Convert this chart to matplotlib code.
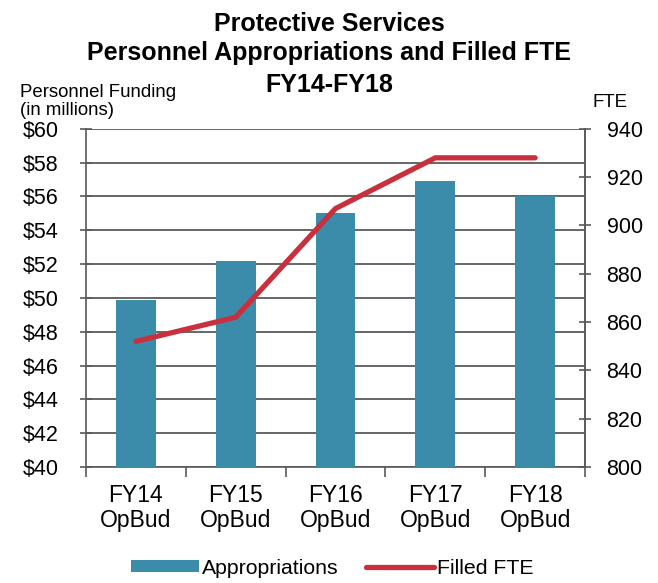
""" Protective Services personnel appropriations vs filled FTE """

import numpy as np
import matplotlib
matplotlib.use("Agg")
import matplotlib.pyplot as plt
from matplotlib.ticker import FuncFormatter, FixedLocator, NullFormatter

categories = ["FY14\nOpBud", "FY15\nOpBud", "FY16\nOpBud", "FY17\nOpBud", "FY18\nOpBud"]
appropriations = [49.9, 52.2, 55.0, 56.9, 56.0]   # $ millions
filled_fte = [852, 862, 907, 928, 928]

plt.rcParams['font.family'] = ['Liberation Sans', 'DejaVu Sans']

BAR_COLOR = "#3b8bab"
LINE_COLOR = "#c9303d"
GRID_COLOR = "#5a5a5a"

fig = plt.figure(figsize=(6.58, 5.83), dpi=100)
ax = fig.add_axes([0.1307, 0.199, 0.7584, 0.58])
x = np.arange(len(categories))

ax.bar(x, appropriations, width=0.4, color=BAR_COLOR, zorder=3, label="Appropriations")
ax.set_ylim(40, 60)
ax.set_xlim(-0.5, len(categories) - 0.5)
ax.set_yticks(np.arange(40, 61, 2))
ax.yaxis.set_major_formatter(FuncFormatter(lambda v, p: "$%d" % v))
ax.yaxis.grid(True, color=GRID_COLOR, linewidth=1.3, zorder=0)
ax.set_axisbelow(True)

# category labels centered, ticks on the boundaries
ax.set_xticks(x)
ax.set_xticklabels(categories, fontsize=16.5, linespacing=1.15)
ax.tick_params(axis="x", length=0, pad=12)
ax.xaxis.set_minor_locator(FixedLocator(np.arange(-0.5, len(categories), 1.0)))
ax.xaxis.set_minor_formatter(NullFormatter())
ax.tick_params(axis="x", which="minor", length=7, color=GRID_COLOR, width=1.2)
ax.tick_params(axis="y", labelsize=15.5, length=9, direction="inout",
               color=GRID_COLOR, width=1.2, pad=15)

for side in ["left", "right", "bottom"]:
    ax.spines[side].set_color(GRID_COLOR)
    ax.spines[side].set_linewidth(1.2)
ax.spines["top"].set_visible(False)

ax2 = ax.twinx()
ax2.plot(x, filled_fte, color=LINE_COLOR, linewidth=3.8, solid_capstyle="round",
         solid_joinstyle="round", zorder=4, label="Filled FTE")
ax2.set_ylim(800, 940)
ax2.set_yticks(np.arange(800, 941, 20))
ax2.tick_params(axis="y", labelsize=15.5, length=9, direction="inout",
                color=GRID_COLOR, width=1.2, pad=11)
for side in ["top", "left", "bottom"]:
    ax2.spines[side].set_visible(False)
ax2.spines["right"].set_color(GRID_COLOR)
ax2.spines["right"].set_linewidth(1.2)

# titles and axis captions
fig.text(0.5, 0.946, "Protective Services", ha="center", va="baseline",
         fontsize=18, fontweight="bold")
fig.text(0.5, 0.897, "Personnel Appropriations and Filled FTE", ha="center",
         va="baseline", fontsize=18, fontweight="bold")
fig.text(0.5, 0.842, "FY14-FY18", ha="center", va="baseline",
         fontsize=18, fontweight="bold")
fig.text(0.03, 0.803, "Personnel Funding\n(in millions)", ha="left", va="baseline",
         fontsize=13.4, linespacing=1.1)
fig.text(0.927, 0.817, "FTE", ha="center", va="baseline", fontsize=13.4)

h1, l1 = ax.get_legend_handles_labels()
h2, l2 = ax2.get_legend_handles_labels()
fig.legend(h1 + h2, l1 + l2, loc="lower center", bbox_to_anchor=(0.505, -0.024),
           ncol=2, frameon=False, fontsize=15.3, handlelength=3.2,
           handleheight=0.5, handletextpad=0.15, columnspacing=1.3)

fig.savefig("out.png", dpi=100)
